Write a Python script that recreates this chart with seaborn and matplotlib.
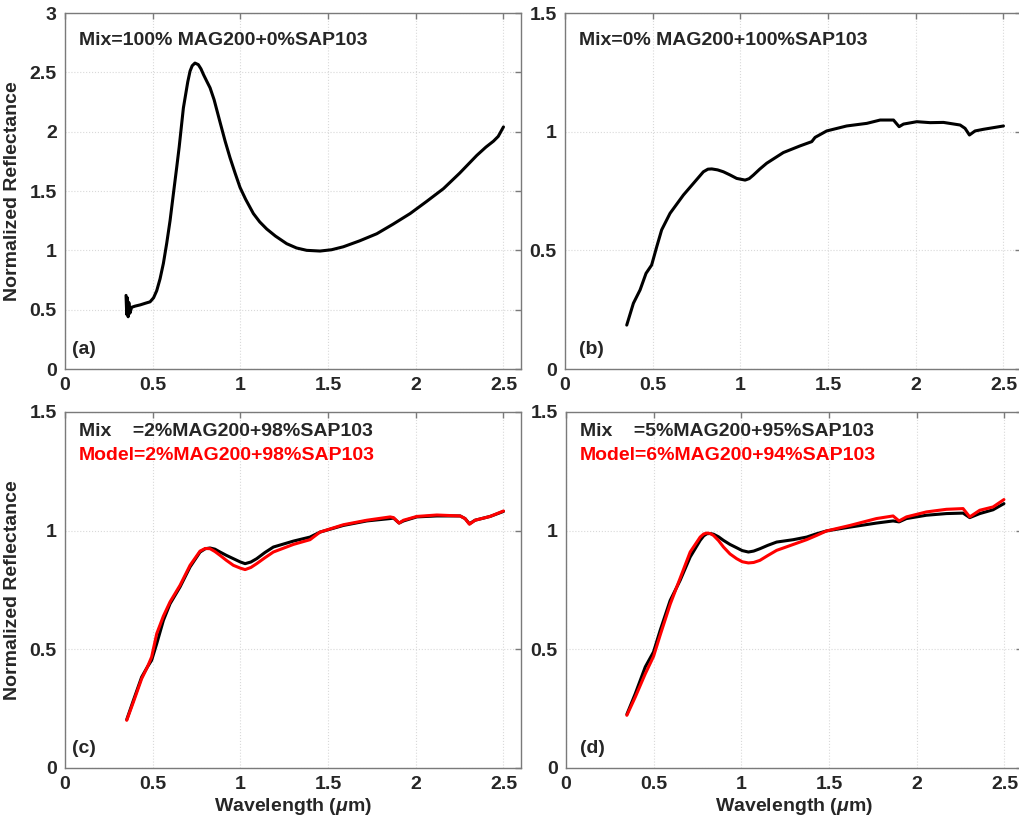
import matplotlib
matplotlib.use('Agg')
import matplotlib.pyplot as plt
import seaborn as sns
import numpy as np
import pandas as pd
from matplotlib.ticker import FuncFormatter

# (a) 100% MAG200
wl_a = [0.348, 0.352, 0.356, 0.360, 0.364, 0.370, 0.380, 0.400, 0.428, 0.460, 0.485, 0.505,
        0.523, 0.542, 0.561, 0.580, 0.599, 0.620, 0.637, 0.651, 0.675, 0.700, 0.713, 0.725,
        0.741, 0.760, 0.775, 0.790, 0.810, 0.827, 0.850, 0.884, 0.913, 0.941, 0.970, 0.998,
        1.030, 1.074, 1.110, 1.150, 1.200, 1.264, 1.320, 1.378, 1.454, 1.520, 1.587, 1.680,
        1.778, 1.870, 1.968, 2.060, 2.158, 2.250, 2.348, 2.400, 2.443, 2.470, 2.500]
refl_a = [0.62, 0.46, 0.60, 0.44, 0.56, 0.47, 0.52, 0.53, 0.54, 0.555, 0.566, 0.60,
          0.66, 0.76, 0.89, 1.06, 1.25, 1.50, 1.70, 1.87, 2.20, 2.42, 2.51, 2.555,
          2.578, 2.565, 2.53, 2.48, 2.42, 2.37, 2.27, 2.08, 1.92, 1.78, 1.65, 1.53,
          1.43, 1.31, 1.24, 1.18, 1.12, 1.056, 1.02, 1.00, 0.994, 1.005, 1.03, 1.08,
          1.14, 1.22, 1.31, 1.41, 1.52, 1.65, 1.80, 1.87, 1.92, 1.96, 2.04]

# (b) 100% SAP103
wl_b = [0.352, 0.390, 0.428, 0.462, 0.494, 0.523, 0.551, 0.599, 0.675, 0.732, 0.789, 0.815,
        0.837, 0.870, 0.903, 0.940, 0.979, 1.027, 1.050, 1.074, 1.110, 1.150, 1.245, 1.340,
        1.407, 1.426, 1.492, 1.606, 1.721, 1.797, 1.873, 1.905, 1.930, 2.006, 2.082, 2.158,
        2.253, 2.281, 2.306, 2.338, 2.386, 2.443, 2.500]
refl_b = [0.185, 0.277, 0.333, 0.403, 0.438, 0.515, 0.586, 0.656, 0.733, 0.782, 0.831, 0.842,
          0.843, 0.839, 0.831, 0.818, 0.803, 0.796, 0.802, 0.817, 0.842, 0.867, 0.912, 0.940,
          0.958, 0.976, 1.003, 1.024, 1.035, 1.049, 1.049, 1.021, 1.032, 1.042, 1.038, 1.039,
          1.028, 1.014, 0.986, 1.003, 1.010, 1.017, 1.024]

# (c) 2% MAG200 + 98% SAP103
wl_c = [0.352, 0.390, 0.437, 0.470, 0.494, 0.523, 0.561, 0.599, 0.656, 0.713, 0.770, 0.800,
        0.827, 0.855, 0.884, 0.920, 0.960, 1.000, 1.027, 1.060, 1.093, 1.140, 1.188, 1.302,
        1.397, 1.454, 1.587, 1.721, 1.854, 1.873, 1.905, 1.930, 2.006, 2.120, 2.253, 2.281,
        2.306, 2.338, 2.424, 2.500]
mix_c = [0.204, 0.285, 0.383, 0.426, 0.454, 0.524, 0.622, 0.692, 0.763, 0.847, 0.910, 0.924,
         0.927, 0.922, 0.910, 0.896, 0.882, 0.868, 0.861, 0.868, 0.882, 0.908, 0.931, 0.956,
         0.973, 0.994, 1.022, 1.041, 1.051, 1.053, 1.032, 1.041, 1.058, 1.062, 1.062, 1.051,
         1.029, 1.044, 1.060, 1.081]
model_c = [0.201, 0.278, 0.376, 0.426, 0.468, 0.566, 0.640, 0.700, 0.770, 0.854, 0.914, 0.925,
           0.924, 0.912, 0.896, 0.875, 0.854, 0.842, 0.836, 0.845, 0.861, 0.886, 0.910, 0.942,
           0.962, 0.994, 1.025, 1.044, 1.058, 1.055, 1.032, 1.044, 1.060, 1.066, 1.062, 1.051,
           1.027, 1.044, 1.060, 1.083]

# (d) 5% MAG200 + 95% SAP103
wl_d = [0.347, 0.395, 0.452, 0.499, 0.537, 0.594, 0.651, 0.708, 0.765, 0.785, 0.803, 0.822,
        0.841, 0.870, 0.898, 0.935, 0.973, 1.005, 1.040, 1.070, 1.106, 1.150, 1.201, 1.296,
        1.372, 1.429, 1.486, 1.619, 1.770, 1.865, 1.899, 1.941, 2.055, 2.169, 2.264, 2.302,
        2.359, 2.435, 2.497]
mix_d = [0.226, 0.313, 0.426, 0.489, 0.580, 0.706, 0.791, 0.889, 0.959, 0.978, 0.987, 0.988,
         0.985, 0.974, 0.959, 0.942, 0.928, 0.916, 0.910, 0.914, 0.924, 0.938, 0.952, 0.962,
         0.973, 0.987, 0.999, 1.015, 1.032, 1.041, 1.037, 1.051, 1.065, 1.072, 1.074, 1.055,
         1.072, 1.088, 1.114]
model_d = [0.222, 0.299, 0.397, 0.470, 0.560, 0.690, 0.800, 0.910, 0.973, 0.986, 0.990, 0.988,
           0.980, 0.958, 0.931, 0.902, 0.882, 0.869, 0.864, 0.866, 0.875, 0.895, 0.917, 0.942,
           0.962, 0.980, 0.999, 1.022, 1.051, 1.062, 1.041, 1.058, 1.079, 1.090, 1.093, 1.058,
           1.086, 1.100, 1.131]

sns.set_style('white')
plt.rcParams['font.family'] = ['Liberation Sans', 'DejaVu Sans']
plt.rcParams['font.weight'] = 'bold'
plt.rcParams['mathtext.fontset'] = 'custom'
plt.rcParams['mathtext.it'] = 'Liberation Sans:italic:bold'

fig = plt.figure(figsize=(10.19, 8.25), dpi=100)
W, H = 1019, 825
def pos(l, t, r, b):
    return [l / W, 1 - b / H, (r - l) / W, (b - t) / H]

ax_a = fig.add_axes(pos(65, 13, 521, 369))
ax_b = fig.add_axes(pos(565, 13, 1021, 369))
ax_c = fig.add_axes(pos(65, 412, 521, 768))
ax_d = fig.add_axes(pos(566, 412, 1022, 768))

sns.lineplot(x=wl_a, y=refl_a, color='black', lw=2.2, ax=ax_a, sort=False)
sns.lineplot(x=wl_b, y=refl_b, color='black', lw=2.2, ax=ax_b)
sns.lineplot(x=wl_c, y=mix_c, color='black', lw=2.2, ax=ax_c)
sns.lineplot(x=wl_c, y=model_c, color='red', lw=2.2, ax=ax_c)
sns.lineplot(x=wl_d, y=mix_d, color='black', lw=2.2, ax=ax_d)
sns.lineplot(x=wl_d, y=model_d, color='red', lw=2.2, ax=ax_d)

fmt = FuncFormatter(lambda v, p: '%g' % v)
for ax, ymax in [(ax_a, 3), (ax_b, 1.5), (ax_c, 1.5), (ax_d, 1.5)]:
    ax.set_xlim(0, 2.6)
    ax.set_ylim(0, ymax)
    ax.set_xticks([0, 0.5, 1, 1.5, 2, 2.5])
    ax.set_yticks(np.arange(0, ymax + 0.01, 0.5))
    ax.xaxis.set_major_formatter(fmt)
    ax.yaxis.set_major_formatter(fmt)
    ax.grid(True, linestyle=':', color='#d9d9d9', lw=0.8)
    ax.tick_params(direction='in', top=True, right=True, length=4, width=1,
                   color='#7a7a7a', labelsize=14, pad=6)
    for s in ax.spines.values():
        s.set_color('#7a7a7a')
        s.set_linewidth(1)
    for lab in ax.get_xticklabels() + ax.get_yticklabels():
        lab.set_fontweight('bold')

tkw = dict(fontsize=14, fontweight='bold', va='center', ha='left')
ax_a.text(0.031, 0.924, 'Mix=100% MAG200+0%SAP103', transform=ax_a.transAxes, **tkw)
ax_b.text(0.031, 0.924, 'Mix=0% MAG200+100%SAP103', transform=ax_b.transAxes, **tkw)
ax_c.text(0.031, 0.944, 'Mix    =2%MAG200+98%SAP103', transform=ax_c.transAxes, **tkw)
ax_c.text(0.031, 0.879, 'Model=2%MAG200+98%SAP103', transform=ax_c.transAxes, color='red', **tkw)
ax_d.text(0.031, 0.944, 'Mix    =5%MAG200+95%SAP103', transform=ax_d.transAxes, **tkw)
ax_d.text(0.031, 0.879, 'Model=6%MAG200+94%SAP103', transform=ax_d.transAxes, color='red', **tkw)

for ax, lab, x in [(ax_a, '(a)', 0.016), (ax_b, '(b)', 0.031), (ax_c, '(c)', 0.016), (ax_d, '(d)', 0.031)]:
    ax.text(x, 0.055, lab, transform=ax.transAxes, **tkw)

for ax in (ax_a, ax_c):
    ax.set_ylabel('Normalized Reflectance', fontsize=14, fontweight='bold', labelpad=6)
for ax in (ax_c, ax_d):
    ax.set_xlabel(r'Wavelength ($\mu$m)', fontsize=14, fontweight='bold', labelpad=2)
for ax in (ax_a, ax_b):
    ax.set_xlabel('')
for ax in (ax_b, ax_d):
    ax.set_ylabel('')

fig.savefig('out.png', dpi=100)
